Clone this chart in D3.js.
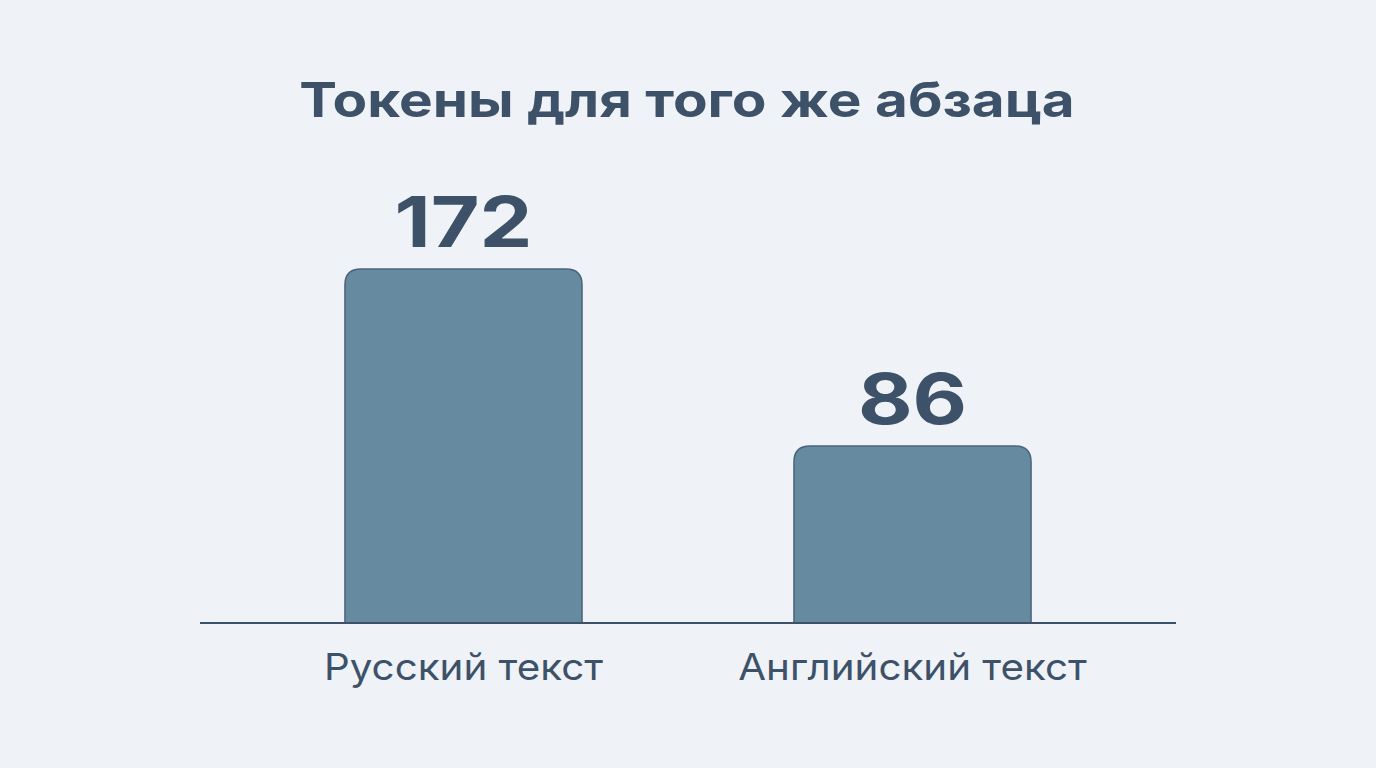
<!DOCTYPE html>
<html><head><meta charset="utf-8">
<script src="https://cdn.jsdelivr.net/npm/d3@7"></script>
<style>body{margin:0;background:#eff3f7;}</style>
</head><body>
<svg width="1376" height="768"></svg>
<script>
const categories = ["Русский текст", "Английский текст"];
const values = [172, 86];
const title = "Токены для того же абзаца";

const svg = d3.select("svg");
const ink = "#3d5168";
const base = 623;

const x = d3.scaleBand().domain(categories).range([133, 1243]).padding(0.472);
const y = d3.scaleLinear().domain([0, 172]).range([base, 269]);

svg.append("rect").attr("width", 1376).attr("height", 768).attr("fill", "#eff3f7");

// widen text to match the reference's broader typeface
function stretch(sel, k) {
  const n = sel.node();
  sel.attr("textLength", n.getComputedTextLength() * k).attr("lengthAdjust", "spacingAndGlyphs");
}

svg.append("text").text(title)
  .attr("x", 687).attr("y", 117).attr("text-anchor", "middle")
  .attr("font-family", "Inter, 'Noto Sans', sans-serif").attr("font-weight", 700)
  .attr("font-size", "48px").attr("fill", ink)
  .call(stretch, 1.18);

function barPath(x0, w, top, r) {
  return `M${x0},${base}V${top + r}Q${x0},${top} ${x0 + r},${top}H${x0 + w - r}Q${x0 + w},${top} ${x0 + w},${top + r}V${base}Z`;
}

categories.forEach((c, i) => {
  const x0 = x(c), w = x.bandwidth(), top = y(values[i]);
  svg.append("path").attr("d", barPath(x0, w, top, 16))
    .attr("fill", "#668aa0").attr("stroke", "#4b6479").attr("stroke-width", 1.5);
  svg.append("text").text(values[i])
    .attr("x", x0 + w / 2).attr("y", top - 22).attr("text-anchor", "middle")
    .attr("font-family", "Inter, 'Noto Sans', sans-serif").attr("font-weight", 700)
    .attr("font-size", "70px").attr("fill", ink)
    .call(stretch, 1.2);
  svg.append("text").text(c)
    .attr("x", x0 + w / 2).attr("y", 680).attr("text-anchor", "middle")
    .attr("font-family", "Inter, 'Noto Sans', sans-serif")
    .attr("font-size", "37px").attr("fill", ink)
    .call(stretch, 1.09);
});

svg.append("line").attr("x1", 200).attr("x2", 1176).attr("y1", base).attr("y2", base)
  .attr("stroke", ink).attr("stroke-width", 2);
</script>
</body></html>
